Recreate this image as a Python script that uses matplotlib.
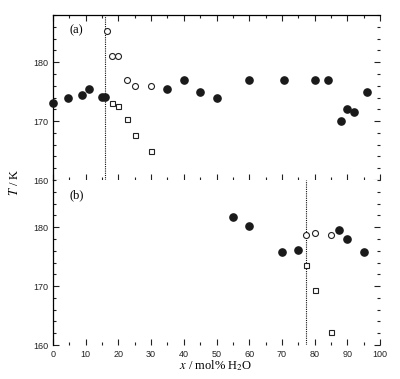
import matplotlib
matplotlib.use("Agg")
import matplotlib.pyplot as plt
from matplotlib.ticker import MultipleLocator

plt.rcParams['mathtext.fontset'] = 'stix'

# Panel (a)
a_filled_x = [0, 4.5, 9, 11, 15, 16, 35, 40, 45, 50, 60, 70.5, 80, 84, 88, 90, 92, 96]
a_filled_T = [173, 174, 174.5, 175.5, 174.1, 174.1, 175.5, 177, 175, 174, 177, 177, 177, 177, 170.1, 172, 171.5, 175]
a_open_x = [16.5, 18, 20, 22.5, 25, 30]
a_open_T = [185.3, 181, 181, 177, 176, 176]
a_sq_x = [18, 20, 22.5, 25, 30]
a_sq_T = [173, 172.5, 170.3, 167.7, 165]
a_vline = 16

# Panel (b)
b_filled_x = [55, 60, 70, 75, 87.5, 90, 95]
b_filled_T = [181.8, 180.2, 175.8, 176.1, 179.5, 178, 175.8]
b_open_x = [77.5, 80, 85]
b_open_T = [178.6, 179, 178.6]
b_sq_x = [77.5, 80, 85]
b_sq_T = [173.6, 169.3, 162.2]
b_vline = 77.5

yticks = [160, 170, 180]
xticks = [0, 10, 20, 30, 40, 50, 60, 70, 80, 90, 100]

fig = plt.figure(figsize=(4.0, 3.79), dpi=100)
ax1 = fig.add_axes([0.1325, 0.525, 0.8175, 0.435])
ax2 = fig.add_axes([0.1325, 0.0897, 0.8175, 0.4353])

serif = ["Liberation Serif", "DejaVu Serif"]
sans = ["Liberation Sans", "DejaVu Sans"]

def style(ax, top):
    ax.set_xlim(0, 100)
    ax.set_ylim(160, 188)
    ax.set_yticks(yticks)
    ax.set_xticks(xticks)
    ax.xaxis.set_minor_locator(MultipleLocator(5))
    ax.yaxis.set_minor_locator(MultipleLocator(2))
    ax.tick_params(which='both', direction='in', top=top, right=True, bottom=True, left=True,
                   width=0.8, labelsize=6.5, colors='#222222')
    ax.tick_params(which='major', length=4)
    ax.tick_params(which='minor', length=2)
    for lab in ax.get_xticklabels() + ax.get_yticklabels():
        lab.set_family(sans)
    ax.spines['right'].set_visible(False)
    ax.spines['bottom'].set_visible(False)
    ax.spines['top'].set_visible(top)
    for s in ax.spines.values():
        s.set_linewidth(0.9)

style(ax1, True)
style(ax2, False)
ax1.tick_params(labelbottom=False)

ms_f = 5.2
ms_o = 4.3
ms_s = 3.6
for ax, fx, fT, ox, oT, sx, sT, vl in [
    (ax1, a_filled_x, a_filled_T, a_open_x, a_open_T, a_sq_x, a_sq_T, a_vline),
    (ax2, b_filled_x, b_filled_T, b_open_x, b_open_T, b_sq_x, b_sq_T, b_vline)]:
    ax.axvline(vl, color='#111111', lw=0.8, ls=(0, (1, 1)))
    ax.plot(fx, fT, 'o', color='#1a1a1a', ms=ms_f, mec='#1a1a1a', ls='none', clip_on=False, zorder=3)
    ax.plot(ox, oT, 'o', mfc='white', mec='#222222', ms=ms_o, mew=0.8, ls='none', zorder=3)
    ax.plot(sx, sT, 's', mfc='white', mec='#222222', ms=ms_s, mew=0.8, ls='none', zorder=3)

ax1.text(0.05, 0.89, "(a)", transform=ax1.transAxes, fontsize=9, family=serif)
ax2.text(0.05, 0.89, "(b)", transform=ax2.transAxes, fontsize=9, family=serif)

fig.text(0.035, 0.52, r"$T$ / K", rotation=90, fontsize=9, family=serif,
         ha='center', va='center')
fig.text(0.54, 0.035, r"$x$ / mol% H$_2$O", fontsize=9, family=serif,
         ha='center', va='center')

fig.savefig("out.png", dpi=100)
